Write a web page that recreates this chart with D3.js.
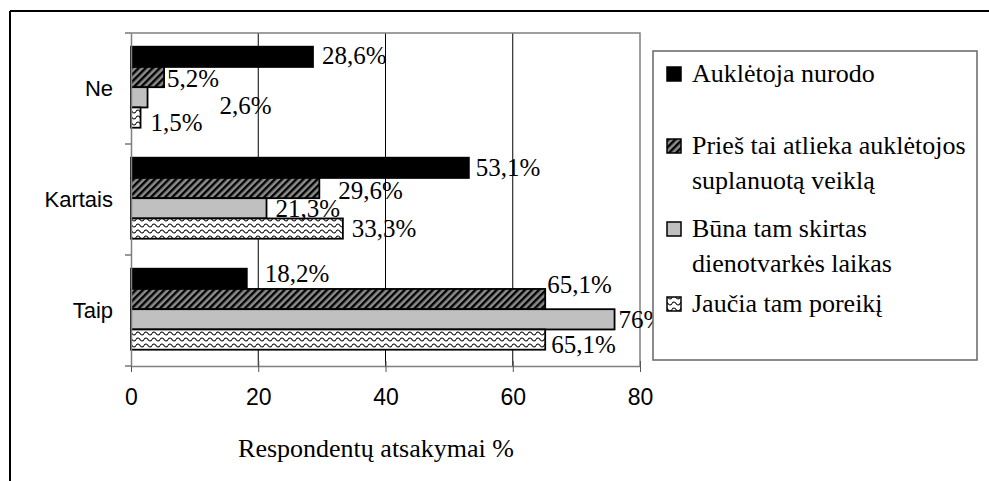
<!DOCTYPE html>
<html>
<head>
<meta charset="utf-8">
<script src="https://cdn.jsdelivr.net/npm/d3@7"></script>
<style>
  body { margin: 0; background: #fff; }
  svg { display: block; }
</style>
</head>
<body>
<div id="chart"></div>
<script>
// answers per category, one array per series
var categories = ['Ne', 'Kartais', 'Taip']
var auklNurodo = [28.6, 53.1, 18.2]
var priesTaiVeikla = [5.2, 29.6, 65.1]
var bunaLaikas = [2.6, 21.3, 76]
var jauciaPoreiki = [1.5, 33.3, 65.1]
var xTicks = [0, 20, 40, 60, 80]
var legendLines = [
    ['Auklėtoja nurodo'],
    ['Prieš tai atlieka auklėtojos', 'suplanuotą veiklą'],
    ['Būna tam skirtas', 'dienotvarkės laikas'],
    ['Jaučia tam poreikį']
]
var xTitle = 'Respondentų atsakymai %'

var seriesValues = [auklNurodo, priesTaiVeikla, bunaLaikas, jauciaPoreiki]
var fills = ['#000', 'url(#hatch)', '#c0c0c0', 'url(#wave)']

// label nudges (dx from bar end, dy from bar middle), like Excel placed them
var labelNudge = [
    [[9, -1], [7, 0], [18, -5]],
    [[3, 1], [19, 2], [2, -15]],
    [[72, 8], [9, 0], [4, 0]],
    [[10, 5], [9, 0], [6, 5]]
]

var width = 989
var height = 481

var svg = d3.select('#chart')
    .append('svg')
    .attr('width', width)
    .attr('height', height)

// patterns
var defs = svg.append('defs')
var hatch = defs.append('pattern')
    .attr('id', 'hatch')
    .attr('patternUnits', 'userSpaceOnUse')
    .attr('width', 5)
    .attr('height', 5)
    .attr('patternTransform', 'rotate(45)')
hatch.append('rect').attr('width', 5).attr('height', 5).attr('fill', '#8c8c8c')
hatch.append('rect').attr('width', 2.4).attr('height', 5).attr('fill', '#000')

var wave = defs.append('pattern')
    .attr('id', 'wave')
    .attr('patternUnits', 'userSpaceOnUse')
    .attr('width', 8)
    .attr('height', 6)
wave.append('rect').attr('width', 8).attr('height', 6).attr('fill', '#fff')
wave.append('path')
    .attr('d', 'M0,3.5 Q2,0.5 4,3.5 T8,3.5')
    .attr('fill', 'none')
    .attr('stroke', '#000')
    .attr('stroke-width', 1.1)

// outer frame (top and left edge only are visible)
svg.append('line').attr('x1', 10).attr('x2', width).attr('y1', 11).attr('y2', 11)
    .attr('stroke', '#000').attr('stroke-width', 2)
svg.append('line').attr('x1', 10).attr('x2', 10).attr('y1', 11).attr('y2', height)
    .attr('stroke', '#000').attr('stroke-width', 2)

// scales
var x = d3.scaleLinear().domain([0, 80]).range([131, 640])
var y = d3.scaleBand().domain(categories).range([33, 366])
var inner = d3.scaleBand().domain(d3.range(seriesValues.length)).range([0, 81])
var groupTop = 13.7

// gridlines
svg.append('g')
    .selectAll('line')
    .data(xTicks.filter(function (d) { return d > 0 && d < 80 }))
    .enter()
    .append('line')
    .attr('x1', function (d) { return x(d) })
    .attr('x2', function (d) { return x(d) })
    .attr('y1', 33)
    .attr('y2', 366)
    .attr('stroke', '#000')
    .attr('stroke-width', 1)

// plot border top and right
svg.append('path')
    .attr('d', 'M' + x(0) + ',33H' + x(80) + 'V366')
    .attr('fill', 'none')
    .attr('stroke', '#808080')
    .attr('stroke-width', 1.5)

// bars
var barData = []
seriesValues.forEach(function (vals, s) {
    vals.forEach(function (v, c) {
        barData.push({ s: s, c: categories[c], ci: c, v: v })
    })
})

svg.append('g')
    .selectAll('rect')
    .data(barData)
    .enter()
    .append('rect')
    .attr('x', x(0))
    .attr('y', function (d) { return y(d.c) + groupTop + inner(d.s) })
    .attr('width', function (d) { return x(d.v) - x(0) })
    .attr('height', inner.bandwidth())
    .attr('fill', function (d) { return fills[d.s] })
    .attr('stroke', '#000')
    .attr('stroke-width', 1.8)

// x axis
var xAxis = svg.append('g')
    .attr('transform', 'translate(0,366)')
    .call(d3.axisBottom(x).tickValues(xTicks).tickSize(6).tickSizeOuter(0).tickPadding(17))
xAxis.select('.domain').attr('stroke', '#808080').attr('stroke-width', 1.5)
xAxis.selectAll('.tick line').attr('y1', -5).attr('stroke', '#555')
xAxis.selectAll('.tick text')
    .attr('font-family', 'Liberation Sans, Arial, sans-serif')
    .attr('font-size', 23)
    .attr('fill', '#000')

// y axis: labels from axis, ticks between categories
var yAxis = svg.append('g')
    .attr('transform', 'translate(' + x(0) + ',0)')
    .call(d3.axisLeft(y).tickSize(0).tickPadding(18))
yAxis.select('.domain').attr('stroke', '#808080').attr('stroke-width', 1.5)
yAxis.selectAll('.tick text')
    .attr('font-family', 'Liberation Sans, Arial, sans-serif')
    .attr('font-size', 22)
    .attr('fill', '#000')

var bounds = categories.map(function (c) { return y(c) }).concat([y.range()[1]])
svg.append('g')
    .selectAll('line')
    .data(bounds)
    .enter()
    .append('line')
    .attr('x1', x(0) - 6)
    .attr('x2', x(0))
    .attr('y1', function (d) { return d })
    .attr('y2', function (d) { return d })
    .attr('stroke', '#555')
    .attr('stroke-width', 1.2)

// value labels
svg.append('g')
    .selectAll('text')
    .data(barData)
    .enter()
    .append('text')
    .attr('x', function (d) { return x(d.v) + labelNudge[d.s][d.ci][0] })
    .attr('y', function (d) {
        return y(d.c) + groupTop + inner(d.s) + inner.bandwidth() / 2 + labelNudge[d.s][d.ci][1]
    })
    .attr('dy', '0.34em')
    .attr('font-family', 'Liberation Serif, Times New Roman, serif')
    .attr('font-size', 25)
    .text(function (d) { return String(d.v).replace('.', ',') + '%' })

// axis title
svg.append('text')
    .attr('x', 376)
    .attr('y', 457)
    .attr('text-anchor', 'middle')
    .attr('font-family', 'Liberation Serif, Times New Roman, serif')
    .attr('font-size', 26)
    .text(xTitle)

// legend (drawn last, it covers the end of the 76% label)
var legend = svg.append('g')
legend.append('rect')
    .attr('x', 653)
    .attr('y', 51)
    .attr('width', 324)
    .attr('height', 309)
    .attr('fill', '#fff')
    .attr('stroke', '#666')
    .attr('stroke-width', 1.5)

var legendBase = [82, 154, 237, 312]
var lineGap = 35
legendLines.forEach(function (lines, i) {
    legend.append('rect')
        .attr('x', 667)
        .attr('y', legendBase[i] - 15)
        .attr('width', 14)
        .attr('height', 14)
        .attr('fill', fills[i])
        .attr('stroke', '#000')
        .attr('stroke-width', 1.5)
    lines.forEach(function (t, j) {
        legend.append('text')
            .attr('x', 692)
            .attr('y', legendBase[i] + j * lineGap)
            .attr('font-family', 'Liberation Serif, Times New Roman, serif')
            .attr('font-size', 26)
            .text(t)
    })
})
</script>
</body>
</html>
